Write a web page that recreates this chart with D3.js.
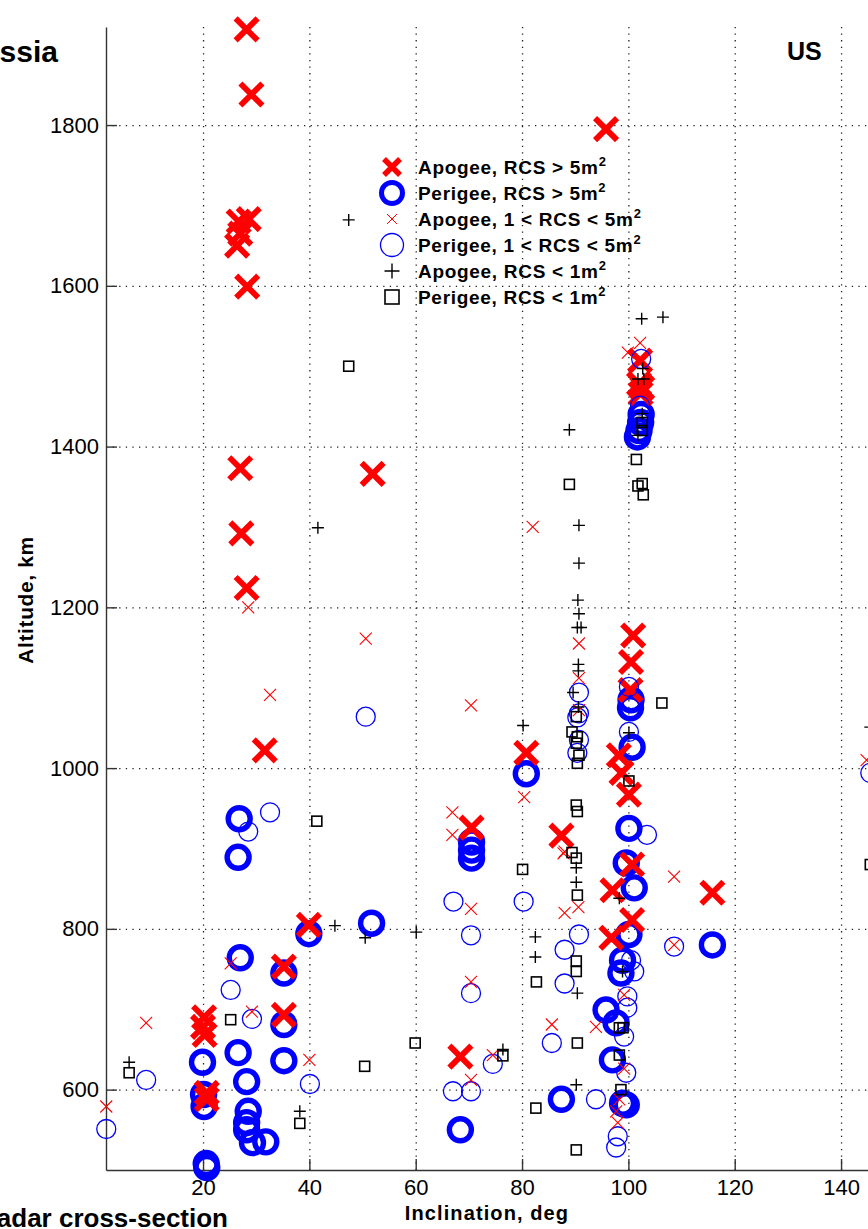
<!DOCTYPE html>
<html>
<head>
<meta charset="utf-8">
<script src="https://cdn.jsdelivr.net/npm/d3@7"></script>
<style>
body{margin:0;background:#fff}
svg{display:block;font-family:Arial,"Liberation Sans",Helvetica,sans-serif}
</style>
</head>
<body>
<div id="chart"></div>
<script>
// each point: [inclination deg, altitude km]
var apogeeBig = [[28.2,1919],[29.1,1838],[26.7,1680],[28.6,1683],[26.4,1650],[27.0,1665],[28.3,1599],
  [95.8,1795],[27.0,1373],[51.9,1366],[27.2,1292],[28.2,1224],[31.6,1022],[39.9,805],[35.2,753],
  [35.2,693],[20.2,690],[20.0,678],[20.3,668],[20.7,596],[20.7,588],[80.8,1019],[70.5,926],
  [87.4,916],[68.4,641],[102.2,1507],[102.6,1473],[102.3,1466],[102.0,1478],[100.9,1165],
  [100.5,1132],[100.4,1097],[98.2,1016],[98.7,994],[100.1,967],[100.7,880],[97.0,848],
  [100.7,811],[96.8,789],[115.8,845]]

var perigeeBig = [[26.8,937],[26.6,889],[39.9,794],[51.7,807],[27.0,764],[35.2,745],[35.2,681],
  [19.9,634],[26.6,646],[35.2,636],[28.2,610],[20.1,594],[20.2,579],[28.5,573],[28.2,559],
  [28.2,550],[29.3,534],[31.8,535],[20.6,508],[20.7,503],[80.8,993],[70.5,908],[70.5,898],
  [70.5,888],[87.4,588],[68.4,550],[102.4,1440],[102.3,1430],[102.0,1420],[101.7,1412],
  [100.5,1085],[100.4,1075],[100.7,1026],[100.1,925],[99.6,882],[101.1,851],[100.1,793],
  [98.9,761],[98.6,745],[95.8,699],[97.7,683],[97.0,637],[98.9,583],[99.6,581],[115.8,780]]

var apogeeMid = [[28.5,1200],[50.6,1161],[32.6,1091],[9.3,683],[25.2,757],[29.2,697],[40.0,637],
  [1.8,579],[82.0,1300],[80.4,964],[66.9,945],[66.9,917],[87.8,894],[70.4,825],[70.4,734],
  [70.4,1078],[74.5,643],[70.4,612],[85.6,681],[102.2,1529],[99.9,1517],[90.7,1155],[90.7,1112],
  [90.7,1072],[88.0,896],[108.6,865],[88.0,820],[90.6,827],[100.7,813],[108.6,780],[99.2,718],
  [93.9,678],[98.3,588],[97.7,573],[98.0,559],[99.2,626],[144.8,1010]]

var perigeeMid = [[50.6,1064],[28.5,921],[32.6,945],[25.2,724],[29.2,688],[9.3,612],[40.1,607],
  [1.8,551],[67.1,834],[80.3,834],[70.4,792],[88.0,774],[88.0,732],[70.4,720],[74.5,632],
  [67.0,598],[70.4,598],[85.6,658],[102.4,1509],[102.2,1451],[90.7,1094],[100.1,1101],
  [90.7,1068],[90.4,1063],[90.7,1035],[90.4,1019],[100.1,1045],[103.5,917],[90.7,793],
  [108.6,778],[100.5,761],[101.1,747],[99.8,716],[99.8,702],[99.2,666],[99.6,621],[93.9,588],
  [98.0,542],[97.7,528],[145.5,994]]

var apogeeSmall = [[47.4,1682],[41.6,1299],[44.8,804],[50.5,789],[6.1,634],[38.2,573],[60.1,796],
  [82.5,790],[82.5,765],[80.2,1053],[76.4,650],[102.5,1559],[106.5,1561],[102.7,1497],[101.8,1484],
  [102.9,1484],[102.6,1441],[101.8,1414],[88.9,1421],[90.7,1302],[90.7,1255],[90.5,1209],
  [90.7,1192],[90.4,1175],[91.1,1175],[90.6,1129],[90.6,1121],[89.6,1094],[90.6,1076],
  [100.1,1044],[90.2,876],[90.2,858],[98.3,838],[98.9,747],[90.4,720],[90.2,606],[145.5,1051]]

var perigeeSmall = [[47.4,1500],[41.4,934],[25.2,687],[6.1,621],[38.2,558],[50.4,629],[80.1,874],
  [82.7,734],[59.9,658],[76.4,642],[82.6,577],[102.6,1420],[102.6,1430],[101.5,1384],[88.9,1353],
  [102.6,1354],[101.8,1351],[102.8,1340],[106.3,1081],[90.2,1064],[89.4,1045],[90.4,1039],
  [90.2,1031],[90.7,1016],[90.4,1006],[100.1,984],[90.2,954],[90.4,946],[89.4,895],[90.2,888],
  [90.4,842],[90.2,760],[90.2,747],[98.3,677],[99.0,677],[90.4,658],[98.3,643],[98.6,600],
  [90.2,525],[145.5,880]]

var xTicks = [20,40,60,80,100,120,140]
var yTicks = [600,800,1000,1200,1400,1600,1800]
var legendLabels = ["Apogee, RCS > 5m","Perigee, RCS > 5m","Apogee, 1 < RCS < 5m",
  "Perigee, 1 < RCS < 5m","Apogee, RCS < 1m","Perigee, RCS < 1m"]

var width = 868, height = 1229
var svg = d3.select("#chart").append("svg")
  .attr("width", width).attr("height", height)

var x = d3.scaleLinear().domain([1.75,160]).range([106,947.4])
var y = d3.scaleLinear().domain([500,1922]).range([1170,27])

// dotted grid
svg.append("g")
  .attr("transform", "translate(0,1170)")
  .call(d3.axisBottom(x).tickValues(xTicks).tickSize(-(1170-27)).tickFormat(""))
  .call(g => g.select(".domain").remove())
  .selectAll("line").attr("stroke","#222").attr("stroke-width",1.3).attr("stroke-dasharray","1.3,5.3")
svg.append("g")
  .attr("transform", "translate(106,0)")
  .call(d3.axisRight(y).tickValues(yTicks).tickSize(947-106).tickFormat(""))
  .call(g => g.select(".domain").remove())
  .selectAll("line").attr("stroke","#222").attr("stroke-width",1.3).attr("stroke-dasharray","1.3,5.3")

// axes with inward ticks
var yAxis = svg.append("g")
  .attr("transform","translate(106,0)")
  .call(d3.axisLeft(y).tickValues(yTicks).tickFormat(d3.format("d")).tickSize(-11).tickSizeOuter(0).tickPadding(7))
var xAxis = svg.append("g")
  .attr("transform","translate(0,1170)")
  .call(d3.axisBottom(x).tickValues(xTicks).tickFormat(d3.format("d")).tickSize(-11).tickSizeOuter(0).tickPadding(9))
svg.selectAll(".domain").attr("stroke","#333").attr("stroke-width",1.4)
yAxis.selectAll(".tick line").attr("stroke","#333").attr("stroke-width",1.4)
xAxis.selectAll(".tick line").attr("stroke","#333").attr("stroke-width",1.4)
svg.selectAll(".tick text").attr("font-size",22).attr("font-family","Arial, Liberation Sans, sans-serif").attr("fill","#000")

// marker shapes
function xPath(h){ return "M"+(-h)+","+(-h)+"L"+h+","+h+"M"+(-h)+","+h+"L"+h+","+(-h) }
function plusPath(h){ return "M"+(-h)+",0L"+h+",0M0,"+(-h)+"L0,"+h }
var styles = {
  apogeeBig:   {shape:"x", h:11, color:"#ff0000", w:5.8},
  perigeeBig:  {shape:"o", h:11, color:"#0000ff", w:5.4},
  apogeeMid:   {shape:"x", h:6, color:"#ff0000", w:1.1},
  perigeeMid:  {shape:"o", h:9.5, color:"#0000ff", w:1.3},
  apogeeSmall: {shape:"+", h:6, color:"#000", w:1.4},
  perigeeSmall:{shape:"s", h:5, color:"#000", w:1.6}
}
function marker(sel, st){
  if (st.shape=="o") {
    sel.append("circle").attr("r",st.h).attr("fill","none")
      .attr("stroke",st.color).attr("stroke-width",st.w)
  } else if (st.shape=="s") {
    sel.append("rect").attr("x",-st.h).attr("y",-st.h).attr("width",2*st.h).attr("height",2*st.h)
      .attr("fill","none").attr("stroke",st.color).attr("stroke-width",st.w)
  } else {
    sel.append("path").attr("d", st.shape=="x" ? xPath(st.h) : plusPath(st.h))
      .attr("fill","none").attr("stroke",st.color).attr("stroke-width",st.w)
  }
}
function drawSeries(data, st){
  svg.append("g").selectAll("g").data(data).join("g")
    .attr("transform", d => "translate("+x(d[0])+","+y(d[1])+")")
    .each(function(){ marker(d3.select(this), st) })
}
drawSeries(perigeeBig, styles.perigeeBig)
drawSeries(apogeeBig, styles.apogeeBig)
drawSeries(perigeeMid, styles.perigeeMid)
drawSeries(apogeeMid, styles.apogeeMid)
drawSeries(perigeeSmall, styles.perigeeSmall)
drawSeries(apogeeSmall, styles.apogeeSmall)

// legend
var legendStyles = [
  {shape:"x", h:8, color:"#ff0000", w:5.5},
  {shape:"o", h:10.5, color:"#0000ff", w:5},
  {shape:"x", h:5, color:"#ff0000", w:1},
  {shape:"o", h:11.5, color:"#0000ff", w:1.3},
  {shape:"+", h:7.5, color:"#000", w:1.4},
  {shape:"s", h:7, color:"#000", w:1.6}
]
var legend = svg.append("g")
legendLabels.forEach(function(label,i){
  var row = legend.append("g").attr("transform","translate(392,"+(167+i*26)+")")
  marker(row, legendStyles[i])
  var t = row.append("text").attr("x",26).attr("y",6.5)
    .attr("font-size",19).attr("font-weight","bold").attr("letter-spacing",0.7)
  t.append("tspan").text(label)
  t.append("tspan").attr("dy",-8).attr("font-size",13).text("2")
})

// labels
svg.append("text").attr("transform","translate(33,600) rotate(-90)")
  .attr("text-anchor","middle").attr("font-size",21).attr("font-weight","bold")
  .attr("letter-spacing",0.6).text("Altitude, km")
svg.append("text").attr("x",487).attr("y",1220).attr("text-anchor","middle")
  .attr("font-size",20).attr("font-weight","bold").attr("letter-spacing",1.1).text("Inclination, deg")
svg.append("text").attr("x",228).attr("y",1227).attr("text-anchor","end")
  .attr("font-size",26).attr("font-weight","bold").text("Radar cross-section")
svg.append("text").attr("x",58).attr("y",62).attr("text-anchor","end")
  .attr("font-size",30).attr("font-weight","bold").text("Russia")
svg.append("text").attr("x",787).attr("y",60)
  .attr("font-size",25).attr("font-weight","bold").text("US")
</script>
</body>
</html>
